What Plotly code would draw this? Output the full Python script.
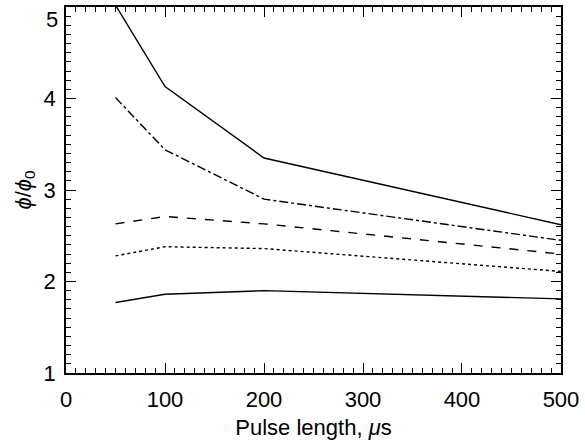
import plotly.graph_objects as go

pulse_length = [50, 100, 200, 500]
series_top = [5.02, 4.13, 3.35, 2.62]
series_dashdot = [4.01, 3.44, 2.90, 2.45]
series_dash = [2.63, 2.71, 2.63, 2.30]
series_dot = [2.28, 2.38, 2.36, 2.11]
series_bottom = [1.77, 1.86, 1.90, 1.81]

x_ticks = [0, 100, 200, 300, 400, 500]
y_ticks = [1, 2, 3, 4, 5]

styles = [
    (series_top, "solid"),
    (series_dashdot, "dashdot"),
    (series_dash, "dash"),
    (series_dot, "dot"),
    (series_bottom, "solid"),
]

fig = go.Figure()
for ys, dash in styles:
    fig.add_trace(go.Scatter(x=pulse_length, y=ys, mode="lines",
                             line=dict(color="black", width=1.4, dash=dash),
                             showlegend=False, cliponaxis=True))

font = dict(family="Liberation Sans, Arial, sans-serif", size=22, color="black")
axis_common = dict(showgrid=False, zeroline=False, showline=True, linecolor="black",
                   linewidth=1.6, mirror="allticks", ticks="inside", ticklen=10,
                   tickwidth=1.2, tickcolor="black", tickfont=font, automargin=False,
                   ticklabeloverflow="allow")

# top y tick label is drawn as an annotation just below the axis top (as in the original)
y_text = [str(v) if v != y_ticks[-1] else "" for v in y_ticks]

fig.update_xaxes(range=[-0.01, 500.01], tickvals=x_ticks, ticktext=[str(v) for v in x_ticks],
                 title=dict(text="Pulse length, <i>μ</i>s", font=font, standoff=8),
                 ticklabelstandoff=6,
                 minor=dict(dtick=10, tick0=0, ticks="inside", ticklen=5, tickcolor="black",
                            tickwidth=1.2, showgrid=False),
                 **axis_common)
fig.update_yaxes(range=[0.9999, 5.0001], tickvals=y_ticks, ticktext=y_text,
                 title=dict(text="<i>ϕ</i>/<i>ϕ</i><sub>0</sub>", font=font, standoff=6),
                 ticklabelstandoff=4,
                 minor=dict(dtick=0.1, tick0=1, ticks="inside", ticklen=5, tickcolor="black",
                            tickwidth=1.2, showgrid=False),
                 **axis_common)

fig.add_annotation(x=0, xref="paper", xanchor="right", xshift=-6,
                   y=y_ticks[-1], yref="y", yanchor="top", yshift=2,
                   text=str(y_ticks[-1]), showarrow=False, font=font)

fig.update_layout(width=585, height=443, plot_bgcolor="white", paper_bgcolor="white",
                  margin=dict(l=66, r=24, t=7, b=70))
fig.write_html("out.html", config={"displayModeBar": False},
               post_script="document.body.style.margin='0';")
